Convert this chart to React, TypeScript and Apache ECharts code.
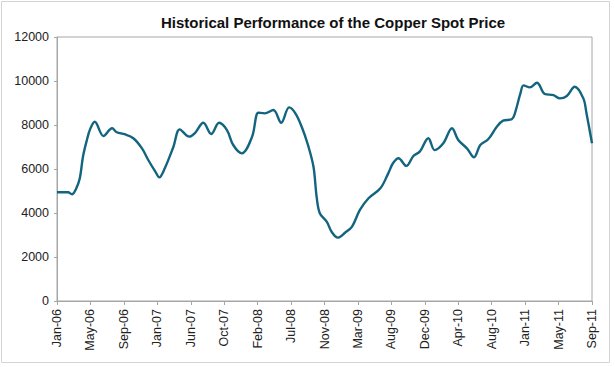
import React, { useEffect, useRef } from "react";
import * as echarts from "echarts";

const title = "Historical Performance of the Copper Spot Price";

// Axis tick labels (evenly spaced along the time axis)
const tickLabels = [
  "Jan-06", "May-06", "Sep-06", "Jan-07", "Jun-07", "Oct-07", "Feb-08", "Jul-08",
  "Nov-08", "Mar-09", "Aug-09", "Dec-09", "Apr-10", "Aug-10", "Jan-11", "May-11", "Sep-11",
];

// Time in months since Jan-06 (fractional), and the copper price (USD/t)
const months = [
  0, 1.4, 1.9, 2.4, 2.9, 3.3, 3.8, 4.2, 4.8, 5.9, 7.0, 7.6, 8.6, 9.7, 10.8, 11.6, 12.5,
  13.0, 13.7, 14.8, 15.6, 16.8, 17.5, 18.6, 19.6, 20.6, 21.6, 22.4, 23.5, 24.8, 25.6,
  26.4, 27.5, 28.5, 29.5, 30.3, 31.1, 31.9, 32.6, 33.0, 33.4, 34.3, 34.9, 35.7, 36.6,
  37.5, 38.5, 39.6, 41.1, 42.1, 42.7, 43.4, 44.4, 45.3, 46.1, 47.2, 48.0, 49.1, 50.2,
  51.0, 52.1, 53.0, 53.8, 54.8, 55.9, 56.7, 57.8, 58.2, 58.9, 59.3, 60.1, 61.0, 62.0,
  63.1, 63.9, 64.8, 65.8, 66.9, 67.3, 68.0,
];
const prices = [
  4940, 4940, 4850, 5080, 5580, 6560, 7320, 7800, 8150, 7500, 7850, 7670, 7580, 7400, 6940, 6410, 5880,
  5620, 6030, 7010, 7800, 7470, 7620, 8100, 7590, 8100, 7770, 7090, 6710, 7470, 8560,
  8530, 8680, 8100, 8800, 8530, 7920, 7090, 6100, 4740, 3990, 3600, 3150, 2880, 3100,
  3380, 4140, 4670, 5120, 5800, 6260, 6490, 6140, 6590, 6790, 7400, 6860, 7170, 7850,
  7320, 6940, 6530, 7090, 7350, 7920, 8200, 8260, 8530, 9440, 9800, 9710, 9920, 9410,
  9360, 9210, 9320, 9740, 9210, 8530, 7170,
];
const monthSpan = 68;

export default function App() {
  const ref = useRef<HTMLDivElement>(null);
  useEffect(() => {
    document.body.style.margin = "0";
    if (!ref.current) return;
    const chart = echarts.init(ref.current, null, { renderer: "svg" });
    const data = months.map((m, i) => [m, prices[i]]);
    chart.setOption({
      animation: false,
      backgroundColor: "#ffffff",
      textStyle: { fontFamily: "Liberation Sans, Arial, sans-serif" },
      title: {
        text: title,
        left: 328,
        top: 10,
        textAlign: "center",
        textStyle: { fontSize: 15, fontWeight: "bold", color: "#111", fontFamily: "Liberation Sans, Arial, sans-serif" },
      },
      graphic: [
        {
          type: "rect",
          shape: { x: 1.5, y: 1.5, width: 608, height: 361 },
          style: { fill: "none", stroke: "#d4d4d4", lineWidth: 1 },
          silent: true,
        },
      ],
      grid: {
        left: 57,
        right: 23,
        top: 37,
        bottom: 66,
        show: true,
        borderColor: "#a6a6a6",
        borderWidth: 1,
        containLabel: false,
      },
      xAxis: [
        {
          type: "category",
          data: tickLabels,
          boundaryGap: false,
          position: "bottom",
          axisLine: { lineStyle: { color: "#a6a6a6" } },
          axisTick: { show: true, length: 4, lineStyle: { color: "#a6a6a6" } },
          axisLabel: { rotate: 90, fontSize: 12.5, color: "#222", margin: 8, interval: 0 },
          splitLine: { show: false },
        },
        {
          type: "value",
          min: 0,
          max: monthSpan,
          show: false,
          splitLine: { show: false },
        },
      ],
      yAxis: {
        type: "value",
        min: 0,
        max: 12000,
        interval: 2000,
        axisLine: { show: true, lineStyle: { color: "#a6a6a6" } },
        axisTick: { show: true, length: 3, lineStyle: { color: "#a6a6a6" } },
        axisLabel: { fontSize: 12.5, color: "#222", margin: 8, formatter: (v: number) => String(v) },
        splitLine: { show: false },
      },
      series: [
        {
          type: "line",
          xAxisIndex: 1,
          data,
          smooth: 0.35,
          showSymbol: false,
          lineStyle: { color: "#13657f", width: 2.4 },
        },
      ],
    });
    return () => chart.dispose();
  }, []);
  return <div ref={ref} style={{ width: 615, height: 367 }} />;
}
